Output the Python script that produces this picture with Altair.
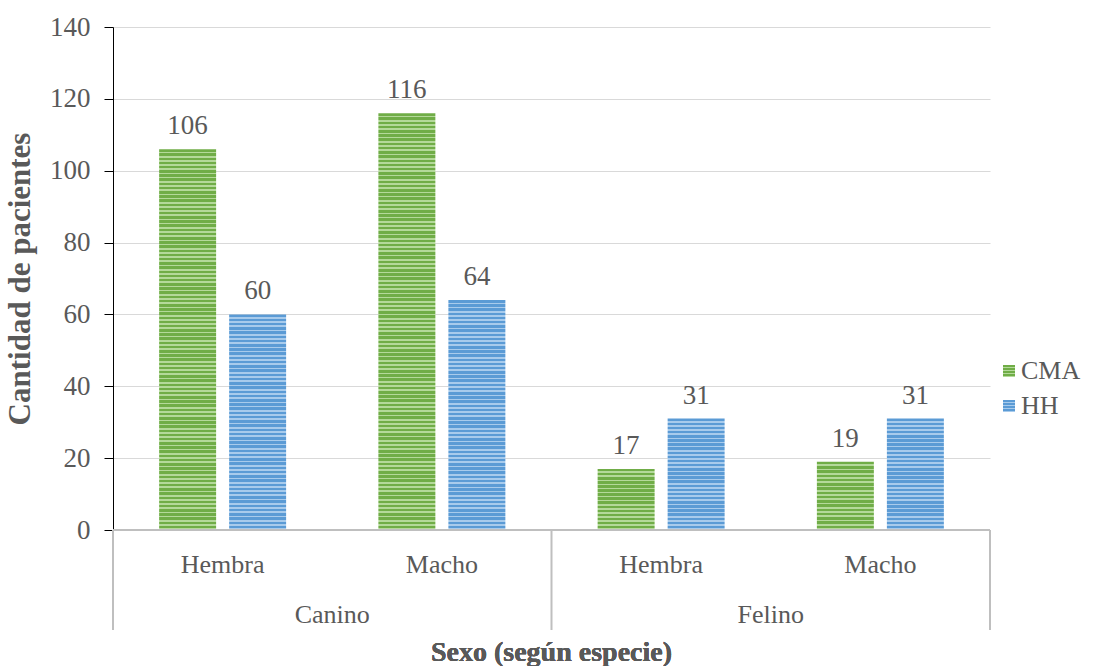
import altair as alt
import pandas as pd

# Patients by sex within each species, for the two groups CMA and HH
species = ["Canino", "Canino", "Felino", "Felino"]
sexes = ["Hembra", "Macho", "Hembra", "Macho"]
cma = [106, 116, 17, 19]
hh = [60, 64, 31, 31]
series_names = ["CMA", "HH"]
y_ticks = [0, 20, 40, 60, 80, 100, 120, 140]

W, H = 877, 503
Y_MAX = 140
FONT = "Liberation Serif"
TXT = "#595959"
AXIS_GREY = "#BFBFBF"

# Stripe colours (dark, light) per series
stripe_colors = {
    "CMA": ("#70AD47", "#B4D99A"),
    "HH": ("#5B9BD5", "#A8CBEC"),
}

keys = [f"{s}|{x}" for s, x in zip(species, sexes)]
rows = []
for k, s, x, a, b in zip(keys, species, sexes, cma, hh):
    rows.append({"key": k, "species": s, "sex": x, "series": "CMA", "value": a})
    rows.append({"key": k, "species": s, "sex": x, "series": "HH", "value": b})
df = pd.DataFrame(rows)

x_scale = alt.Scale(domain=keys, paddingInner=0, paddingOuter=0)
xo_scale = alt.Scale(domain=series_names, paddingInner=0.186, paddingOuter=0.659)
y_scale = alt.Scale(domain=[0, Y_MAX], nice=False)


def striped(series, px_height, pitch=4.2, dark_share=0.6):
    """Horizontal stripes as a hard-stop linear gradient over the bar height."""
    dark, light = stripe_colors[series]
    n = max(1, round(px_height / pitch))
    stops = []
    for i in range(n):
        a = i / n
        m = (i + dark_share) / n
        b = (i + 1) / n
        stops += [
            alt.GradientStop(offset=a, color=dark),
            alt.GradientStop(offset=m, color=dark),
            alt.GradientStop(offset=m, color=light),
            alt.GradientStop(offset=b, color=light),
        ]
    return alt.LinearGradient(gradient="linear", stops=stops, x1=0, x2=0, y1=0, y2=1)


base = alt.Chart(df)

# One bar layer per bar so each gets stripes of constant pitch
bar_layers = []
for _, r in df.iterrows():
    px_h = r["value"] / Y_MAX * H
    layer = base.transform_filter(
        (alt.datum.key == r["key"]) & (alt.datum.series == r["series"])
    ).mark_bar(fill=striped(r["series"], px_h), stroke=None).encode(
        x=alt.X("key:N", scale=x_scale, axis=None),
        xOffset=alt.XOffset("series:N", scale=xo_scale),
        y=alt.Y(
            "value:Q",
            scale=y_scale,
            axis=alt.Axis(
                values=y_ticks,
                grid=True,
                gridColor="#D9D9D9",
                gridWidth=1,
                domainColor="black",
                domainWidth=1,
                tickColor="black",
                tickSize=9,
                labelFont=FONT,
                labelFontSize=27,
                labelColor=TXT,
                labelPadding=14,
                title="Cantidad de pacientes",
                titleFont=FONT,
                titleFontSize=31,
                titleFontWeight="bold",
                titleColor=TXT,
                titlePadding=13,
            ),
        ),
    )
    bar_layers.append(layer)

value_labels = base.mark_text(
    font=FONT, fontSize=27, color=TXT, baseline="alphabetic", dy=-15
).encode(
    x=alt.X("key:N", scale=x_scale),
    xOffset=alt.XOffset("series:N", scale=xo_scale),
    y=alt.Y("value:Q", scale=y_scale),
    text=alt.Text("value:Q"),
)

# Category axis: baseline, separators and two rows of labels
cats = pd.DataFrame({"key": keys, "sex": sexes, "species": species})

x_domain = alt.Chart(cats).mark_rule(color=AXIS_GREY, strokeWidth=2).encode(
    x=alt.value(0), x2=alt.value(W), y=alt.value(H)
)

sep_start = alt.Chart(cats).transform_filter(
    alt.datum.sex == "Hembra"
).mark_rule(color=AXIS_GREY, strokeWidth=2).encode(
    x=alt.X("key:N", scale=x_scale, bandPosition=0),
    y=alt.value(H),
    y2=alt.value(H + 100),
)

sep_end = alt.Chart(cats).transform_filter(
    alt.datum.key == keys[-1]
).mark_rule(color=AXIS_GREY, strokeWidth=2).encode(
    x=alt.X("key:N", scale=x_scale, bandPosition=1),
    y=alt.value(H),
    y2=alt.value(H + 100),
)

sex_labels = alt.Chart(cats).mark_text(
    font=FONT, fontSize=26, color=TXT, baseline="middle"
).encode(
    x=alt.X("key:N", scale=x_scale),
    y=alt.value(H + 35),
    text="sex:N",
)

species_labels = alt.Chart(cats).transform_filter(
    alt.datum.sex == "Macho"
).mark_text(font=FONT, fontSize=26, color=TXT, baseline="middle").encode(
    x=alt.X("key:N", scale=x_scale, bandPosition=0),
    y=alt.value(H + 85),
    text="species:N",
)

x_title = alt.Chart(cats).mark_text(
    font=FONT, fontSize=28, fontWeight="bold", color=TXT, baseline="middle"
).encode(
    x=alt.value(W / 2),
    y=alt.value(H + 123),
    text=alt.value("Sexo (según especie)"),
)

# Legend
leg = pd.DataFrame({"series": series_names, "row": [0, 1]})
legend_layers = []
for i, s in enumerate(series_names):
    y0 = 338 + i * 35
    sq = alt.Chart(leg).transform_filter(alt.datum.series == s).mark_rect(
        fill=striped(s, 12, pitch=3)
    ).encode(
        x=alt.value(W + 13), x2=alt.value(W + 25),
        y=alt.value(y0), y2=alt.value(y0 + 12),
    )
    tx = alt.Chart(leg).transform_filter(alt.datum.series == s).mark_text(
        font=FONT, fontSize=26, color=TXT, align="left", baseline="middle"
    ).encode(
        x=alt.value(W + 31), y=alt.value(y0 + 6), text="series:N"
    )
    legend_layers += [sq, tx]

chart = alt.layer(
    *bar_layers, value_labels, x_domain, sep_start, sep_end,
    sex_labels, species_labels, x_title, *legend_layers
).properties(
    width=W,
    height=H,
    autosize=alt.AutoSizeParams(type="none"),
    padding={"left": 113, "top": 27, "right": 127, "bottom": 136},
    background="white",
).configure(
    font=FONT
).configure_view(stroke=None)

chart.save("out.html", embed_options={"renderer": "svg", "actions": False})
